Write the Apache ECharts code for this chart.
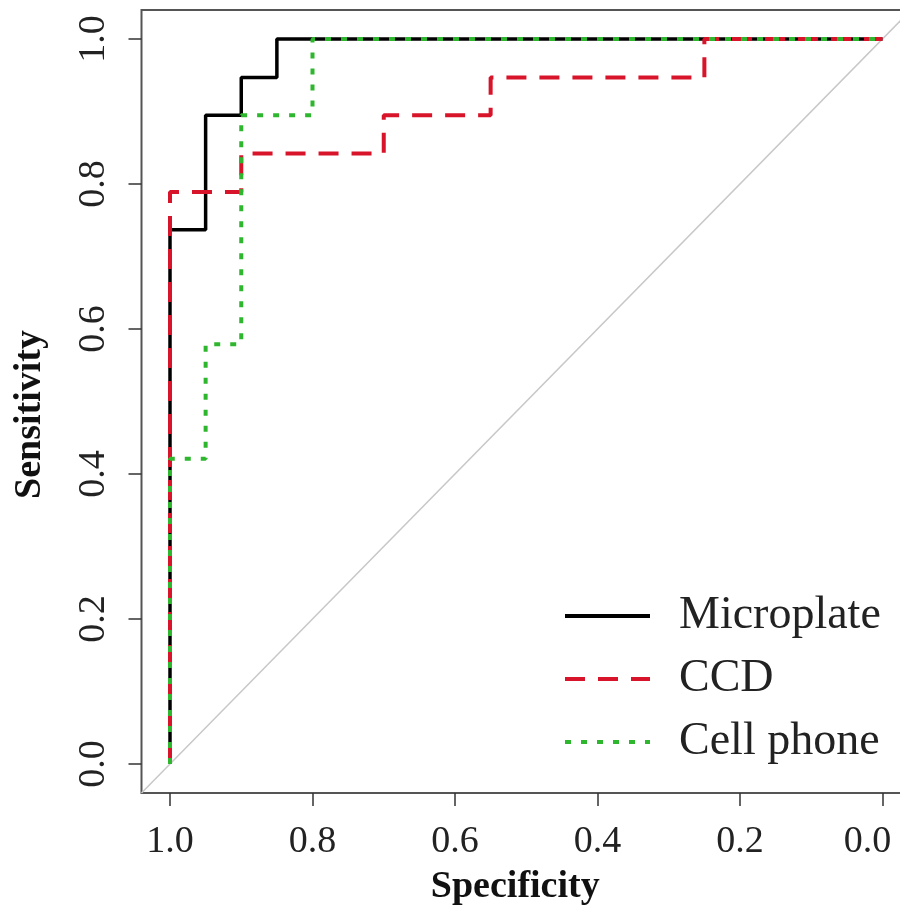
<!DOCTYPE html>
<html>
<head>
<meta charset="utf-8">
<title>ROC</title>
<script src="https://cdn.jsdelivr.net/npm/echarts@6/dist/echarts.min.js"></script>
<style>
    html, body { margin: 0; padding: 0; background: #fff; }
    #main { width: 900px; height: 910px; }
</style>
</head>
<body>
<div id="main"></div>
<script>
// ROC step points, specificity (x, reversed) and sensitivity (y)
var microSpec = [1.0, 1.0, 0.95, 0.95, 0.90, 0.90, 0.85, 0.85, 0.0];
var microSens = [0.0, 0.737, 0.737, 0.895, 0.895, 0.947, 0.947, 1.0, 1.0];

var ccdSpec = [1.0, 1.0, 0.90, 0.90, 0.70, 0.70, 0.55, 0.55, 0.25, 0.25, 0.0];
var ccdSens = [0.0, 0.789, 0.789, 0.842, 0.842, 0.895, 0.895, 0.947, 0.947, 1.0, 1.0];

var phoneSpec = [1.0, 1.0, 0.95, 0.95, 0.90, 0.90, 0.80, 0.80, 0.0];
var phoneSens = [0.0, 0.421, 0.421, 0.579, 0.579, 0.895, 0.895, 1.0, 1.0];

var tickValues = [0, 0.2, 0.4, 0.6, 0.8, 1.0];
var diagSpec = [1.04, -0.04];
var diagSens = [-0.04, 1.04];

function pairs(xs, ys) {
    var out = [];
    for (var i = 0; i < xs.length; i++) out.push([xs[i], ys[i]]);
    return out;
}

var font = 'Liberation Serif';
var chart = echarts.init(document.getElementById('main'));

var option = {
    animation: false,
    backgroundColor: '#fff',
    grid: {
        left: 141.5, top: 10, width: 769.5, height: 783,
        outerBoundsMode: 'none', containLabel: false,
        show: true, borderColor: '#555', borderWidth: 2, backgroundColor: 'transparent'
    },
    xAxis: {
        type: 'value', inverse: true, min: -0.04, max: 1.04,
        name: 'Specificity', nameLocation: 'middle', nameGap: 75,
        nameTextStyle: { fontFamily: font, fontSize: 38, fontWeight: 'bold', color: '#111', padding: [0, 22, 0, 0] },
        splitLine: { show: false },
        axisLine: { show: false, onZero: false },
        axisTick: { show: true, customValues: tickValues, length: 13, lineStyle: { color: '#333', width: 1.5 } },
        axisLabel: {
            customValues: tickValues, margin: 30,
            fontFamily: font, fontSize: 38, color: '#222',
            // last label sits a little left so it stays on the page
            formatter: function (v) {
                var n = Number(v);
                return Math.abs(n) < 0.01 ? '{e|0.0}' : n.toFixed(1);
            },
            rich: { e: { fontFamily: font, fontSize: 38, color: '#222', padding: [0, 30, 0, 0] } }
        }
    },
    yAxis: {
        type: 'value', min: -0.04, max: 1.04,
        name: 'Sensitivity', nameLocation: 'middle', nameGap: 92, nameRotate: 90,
        nameTextStyle: { fontFamily: font, fontSize: 38, fontWeight: 'bold', color: '#111', padding: [0, 26, 0, 0] },
        splitLine: { show: false },
        axisLine: { show: false, onZero: false },
        axisTick: { show: true, customValues: tickValues, length: 13, lineStyle: { color: '#333', width: 1.5 } },
        axisLabel: {
            customValues: tickValues, margin: 28, rotate: 90,
            fontFamily: font, fontSize: 38, color: '#222',
            formatter: function (v) { return Number(v).toFixed(1); }
        }
    },
    legend: {
        orient: 'vertical', left: 558, top: 586,
        itemWidth: 85, itemHeight: 2, itemGap: 13,
        itemStyle: { opacity: 0 },
        lineStyle: { width: 4 },
        data: ['Microplate', 'CCD', 'Cell phone'],
        textStyle: { fontFamily: font, fontSize: 46, color: '#222', lineHeight: 50, padding: [0, 0, 0, 24] }
    },
    series: [
        {
            name: 'diag', type: 'line', data: pairs(diagSpec, diagSens), symbol: 'none', silent: true,
            lineStyle: { color: '#c8c8c8', width: 1.5 }, z: 1
        },
        {
            name: 'Microplate', type: 'line', data: pairs(microSpec, microSens), symbol: 'none',
            lineStyle: { color: '#000', width: 3.5 }, itemStyle: { color: '#000' }, z: 2
        },
        {
            name: 'CCD', type: 'line', data: pairs(ccdSpec, ccdSens), symbol: 'none',
            lineStyle: { color: '#d8142a', width: 4, type: [20, 13] }, itemStyle: { color: '#d8142a' }, z: 3
        },
        {
            name: 'Cell phone', type: 'line', data: pairs(phoneSpec, phoneSens), symbol: 'none',
            lineStyle: { color: '#2fb62f', width: 4, type: [6, 10] }, itemStyle: { color: '#2fb62f' }, z: 4
        }
    ]
};
chart.setOption(option);
</script>
</body>
</html>
